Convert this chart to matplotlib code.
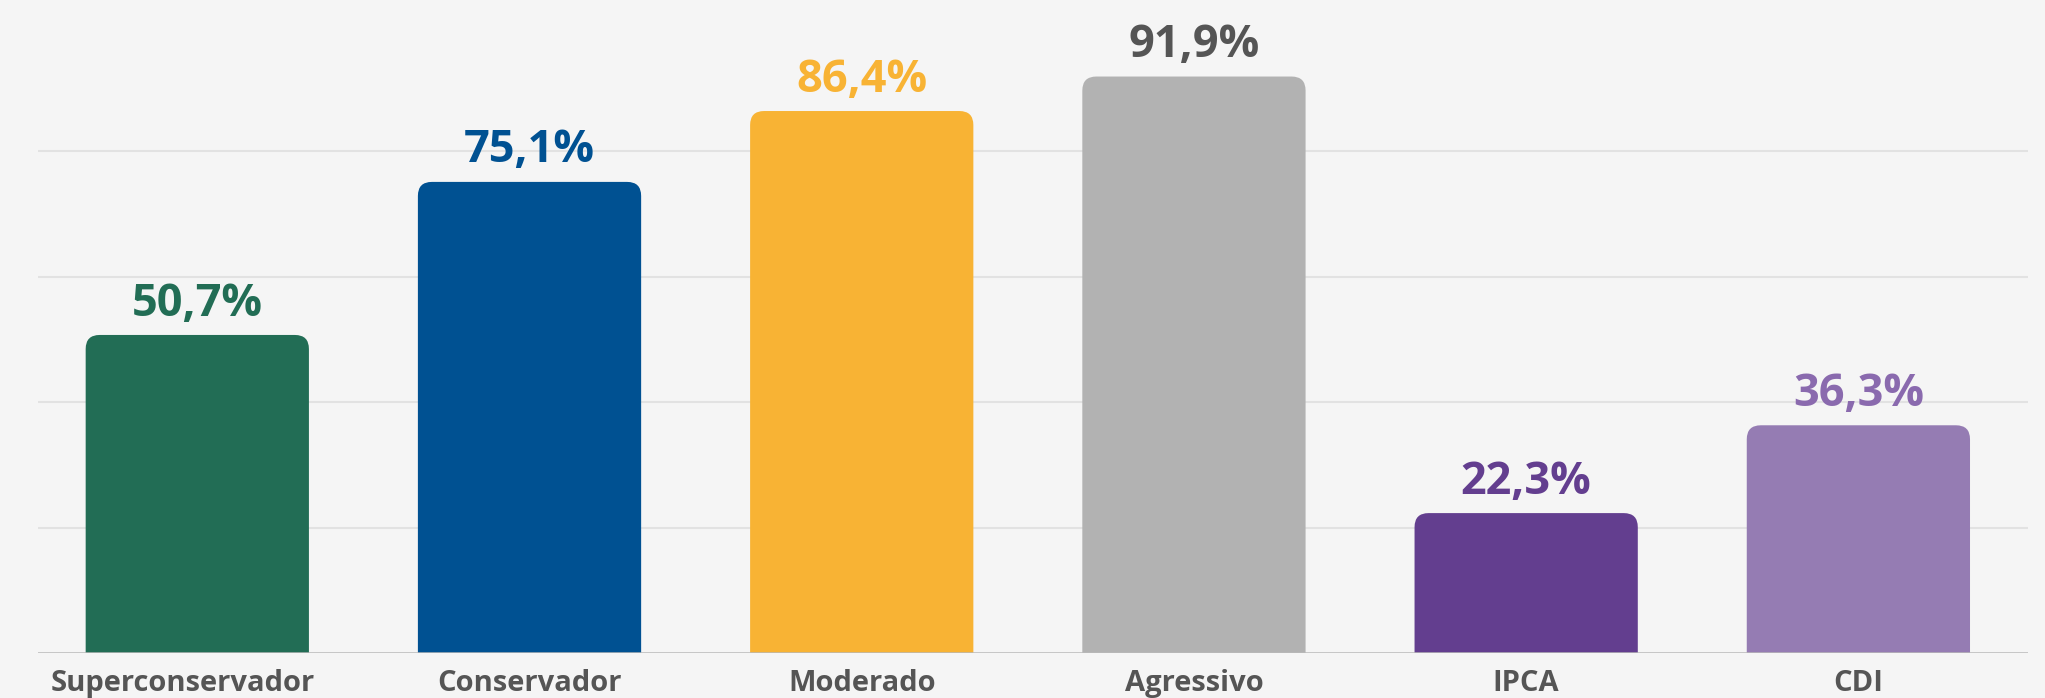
import matplotlib as mpl
import matplotlib.pyplot as plt
from matplotlib import patches

mpl.rcParams["font.family"] = ["Open Sans", "DejaVu Sans"]

categories = ["Superconservador", "Conservador", "Moderado", "Agressivo", "IPCA", "CDI"]
values = [50.7, 75.1, 86.4, 91.9, 22.3, 36.3]
value_labels = ["50,7%", "75,1%", "86,4%", "91,9%", "22,3%", "36,3%"]
bar_colors = ["#226d55", "#005192", "#f8b334", "#b2b2b2", "#633e8f", "#957cb3"]
label_colors = ["#226d55", "#005192", "#f8b334", "#555555", "#633e8f", "#8a6aae"]
grid_ticks = [20, 40, 60, 80]

BG = "#f5f5f5"
TEXT = "#555555"

fig = plt.figure(figsize=(20.45, 6.98), dpi=100, facecolor=BG)
ax = fig.add_axes([0.0185, 0.0645, 0.9731, 0.9355])
ax.set_facecolor(BG)
ax.set_xlim(-0.48, 5.51)
ax.set_ylim(0, 104.1)

# light horizontal grid + darker baseline
for t in grid_ticks:
    ax.axhline(t, color="#e2e2e2", linewidth=1.5, zorder=1)
ax.axhline(0, color="#b9b9b9", linewidth=1.8, zorder=4)

# bars with rounded top corners; the bottom is pushed below zero and clipped
width = 0.672
px_x = 1990 / (5.51 + 0.48)
px_y = 653 / 104.1
radius = 14
rx = radius / px_x
aspect = (radius / px_y) / rx
for i, (v, c) in enumerate(zip(values, bar_colors)):
    box = patches.FancyBboxPatch(
        (i - width / 2, -10), width, v + 10,
        boxstyle=patches.BoxStyle("Round", pad=0, rounding_size=rx),
        mutation_aspect=aspect,
        facecolor=c, edgecolor="none", zorder=3,
    )
    ax.add_patch(box)

# value labels above bars
for i, (v, lab, c) in enumerate(zip(values, value_labels, label_colors)):
    ax.annotate(lab, (i, v), xytext=(0, 14), textcoords="offset points",
                ha="center", va="baseline", fontsize=32.5, fontweight="bold",
                color=c, zorder=5)

# category labels under the baseline
for i, cat in enumerate(categories):
    dx = -15 / px_x if i == 0 else 0
    ax.text(i + dx, -38 / px_y, cat, ha="center", va="baseline",
            fontsize=21, fontweight="bold", color=TEXT, clip_on=False)

ax.set_xticks([])
ax.set_yticks([])
for s in ax.spines.values():
    s.set_visible(False)

fig.savefig("out.png", dpi=100, facecolor=BG)
